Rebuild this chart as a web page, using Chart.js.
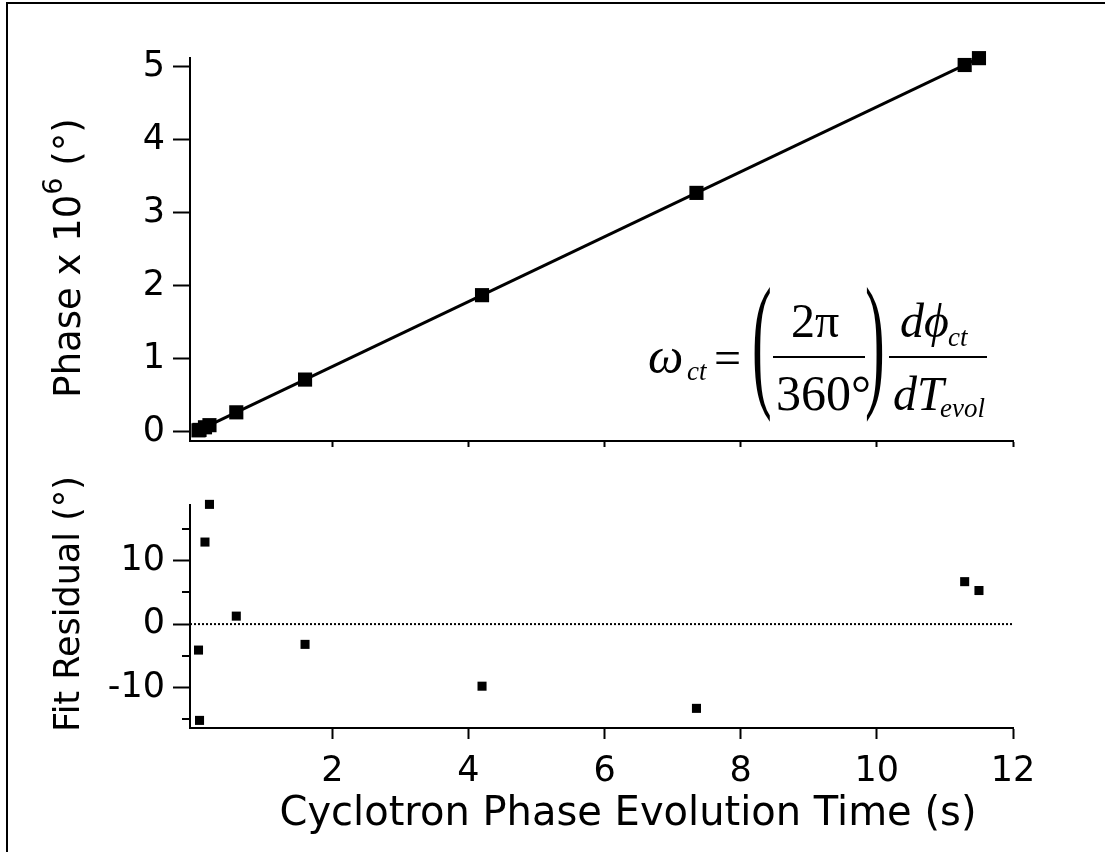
<!DOCTYPE html>
<html lang="en">
<head>
  <meta charset="UTF-8">
  <title>Cyclotron Phase Evolution</title>
  <script src="https://cdn.jsdelivr.net/npm/chart.js"></script>
  <style>
    body { margin: 0; background: #fff; }
    #page { position: relative; width: 1105px; height: 852px; overflow: hidden; }
    #frame { position: absolute; left: 6px; top: 2px; width: 1200px; height: 1000px;
             border-left: 2px solid #000; border-top: 2px solid #000; }
    canvas { position: absolute; left: 0; }
    .eq { position: absolute; font-family: "Liberation Serif", "Times New Roman", serif;
          line-height: 1; white-space: nowrap; color: #000; }
    .it { font-style: italic; }
    .paren { transform: scaleX(0.4); transform-origin: left top; }
    .bar { position: absolute; height: 2px; background: #000; }
  </style>
</head>
<body>
<div id="page">
  <div id="frame"></div>
  <canvas id="phaseChart" width="1105" height="470" style="top:0"></canvas>
  <canvas id="residChart" width="1105" height="382" style="top:470px"></canvas>

  <!-- fit formula -->
  <span class="eq it" style="left:648px; top:331px; font-size:50px">ω</span>
  <span class="eq it" style="left:687px; top:358px; font-size:27px">ct</span>
  <span class="eq" style="left:714px; top:334px; font-size:48px">=</span>
  <span class="eq paren" style="left:752px; top:266px; font-size:148px">(</span>
  <span class="eq" style="left:791px; top:297px; font-size:48px">2π</span>
  <div class="bar" style="left:773px; top:356px; width:92px"></div>
  <span class="eq" style="left:776px; top:368px; font-size:50px">360°</span>
  <span class="eq paren" style="left:865px; top:266px; font-size:148px">)</span>
  <span class="eq it" style="left:900px; top:297px; font-size:48px">dϕ</span>
  <span class="eq it" style="left:948px; top:324px; font-size:27px">ct</span>
  <div class="bar" style="left:889px; top:356px; width:98px"></div>
  <span class="eq it" style="left:893px; top:370px; font-size:48px">dT</span>
  <span class="eq it" style="left:940px; top:395px; font-size:27px">evol</span>
</div>

<script>
  // evolution times (s)
  const times = [0.035, 0.05, 0.13, 0.196, 0.59, 1.6, 4.2, 7.35, 11.29, 11.5];
  // phase, units of 10^6 degrees
  const phase = [0.016, 0.022, 0.058, 0.087, 0.263, 0.712, 1.869, 3.271, 5.024, 5.118];
  // fit residual (degrees)
  const residual = [-4.1, -15.2, 12.95, 18.9, 1.26, -3.2, -9.8, -13.3, 6.7, 5.3];
  // linear fit end points
  const fitTimes = [0.035, 11.5];
  const fitPhase = [0.016, 5.118];

  const xTicks = [2, 4, 6, 8, 10, 12];
  const phaseTicks = [0, 1, 2, 3, 4, 5];
  const residTicks = [-10, 0, 10];
  const residMinor = [-15, -5, 5, 15];

  Chart.defaults.font.family = '"DejaVu Sans", Verdana, sans-serif';
  Chart.defaults.font.size = 35;
  Chart.defaults.color = '#000';

  const pts = (xs, ys) => xs.map((x, i) => ({ x: x, y: ys[i] }));

  // axis titles drawn by hand so the 10^6 can get a real superscript
  const axisTitles = {
    id: 'axisTitles',
    afterDraw(chart, args, opts) {
      const ctx = chart.ctx;
      ctx.save();
      ctx.fillStyle = '#000';
      ctx.textBaseline = 'middle';
      ctx.textAlign = 'left';
      (opts.items || []).forEach(t => {
        const parts = t.parts;
        let total = 0;
        parts.forEach(p => {
          ctx.font = p.size + 'px "DejaVu Sans", Verdana, sans-serif';
          p.w = ctx.measureText(p.text).width;
          total += p.w;
        });
        ctx.save();
        ctx.translate(t.x, t.y);
        if (t.rotate) ctx.rotate(-Math.PI / 2);
        let cx = -total / 2;
        parts.forEach(p => {
          ctx.font = p.size + 'px "DejaVu Sans", Verdana, sans-serif';
          ctx.fillText(p.text, cx, -(p.rise || 0));
          cx += p.w;
        });
        ctx.restore();
      });
      ctx.restore();
    }
  };

  // short minor ticks on the residual axis
  const minorTicks = {
    id: 'minorTicks',
    afterDraw(chart, args, opts) {
      if (!opts.values) return;
      const ctx = chart.ctx, y = chart.scales.y, left = chart.chartArea.left;
      ctx.save();
      ctx.strokeStyle = '#000';
      ctx.lineWidth = 2;
      opts.values.forEach(v => {
        const py = Math.round(y.getPixelForValue(v));
        ctx.beginPath();
        ctx.moveTo(left - 8, py);
        ctx.lineTo(left, py);
        ctx.stroke();
      });
      ctx.restore();
    }
  };

  function xAxis(tickLen, labels, height) {
    return {
      type: 'linear',
      min: -0.09,
      max: 12,
      afterBuildTicks: s => { s.ticks = xTicks.map(v => ({ value: v })); },
      afterFit: s => { s.height = height; },
      grid: { drawOnChartArea: false, tickLength: tickLen, tickColor: '#000', tickWidth: 2 },
      border: { color: '#000', width: 2 },
      ticks: { display: labels, padding: 12, maxRotation: 0, autoSkip: false }
    };
  }

  function yAxis(min, max, tickVals) {
    return {
      min: min,
      max: max,
      afterBuildTicks: s => { s.ticks = tickVals.map(v => ({ value: v })); },
      afterFit: s => { s.width = 190; },
      grid: { drawOnChartArea: false, tickLength: 17, tickColor: '#000', tickWidth: 2 },
      border: { color: '#000', width: 2 },
      ticks: { padding: 8 }
    };
  }

  new Chart(document.getElementById('phaseChart'), {
    type: 'scatter',
    data: {
      datasets: [{
        label: 'Phase',
        data: pts(times, phase),
        pointStyle: 'rect',
        pointRadius: 10,
        pointBorderWidth: 0,
        backgroundColor: '#000',
        clip: false,
        order: 1
      }, {
        label: 'Fit',
        data: pts(fitTimes, fitPhase),
        showLine: true,
        borderColor: '#000',
        borderWidth: 3,
        pointRadius: 0,
        order: 2
      }]
    },
    options: {
      responsive: false,
      animation: false,
      layout: { padding: { left: 0, right: 92, top: 58, bottom: 0 } },
      scales: {
        x: xAxis(6, false, 12),
        y: yAxis(-0.13, 5.12, phaseTicks)
      },
      plugins: {
        legend: { display: false },
        tooltip: { enabled: false },
        axisTitles: {
          items: [{ x: 70, y: 258, rotate: true, parts: [
            { text: 'Phase x 10', size: 37 },
            { text: '6', size: 27, rise: 15 },
            { text: ' (°)', size: 37 }
          ] }]
        }
      }
    },
    plugins: [axisTitles]
  });

  new Chart(document.getElementById('residChart'), {
    type: 'scatter',
    data: {
      datasets: [{
        label: 'Residual',
        data: pts(times, residual),
        pointStyle: 'rect',
        pointRadius: 6.4,
        pointBorderWidth: 0,
        backgroundColor: '#000',
        clip: false,
        order: 1
      }, {
        label: 'Zero',
        data: [{ x: -0.09, y: 0 }, { x: 12, y: 0 }],
        showLine: true,
        borderColor: '#000',
        borderWidth: 2,
        borderDash: [2, 2],
        pointRadius: 0,
        order: 2
      }]
    },
    options: {
      responsive: false,
      animation: false,
      layout: { padding: { left: 0, right: 92, top: 35, bottom: 0 } },
      scales: {
        x: xAxis(11, true, 124),
        y: yAxis(-16.4, 18.8, residTicks)
      },
      plugins: {
        legend: { display: false },
        tooltip: { enabled: false },
        minorTicks: { values: residMinor },
        axisTitles: {
          items: [
            { x: 70, y: 134, rotate: true, parts: [{ text: 'Fit Residual (°)', size: 35 }] },
            { x: 628, y: 345, rotate: false, parts: [{ text: 'Cyclotron Phase Evolution Time (s)', size: 40 }] }
          ]
        }
      }
    },
    plugins: [axisTitles, minorTicks]
  });
</script>
</body>
</html>
